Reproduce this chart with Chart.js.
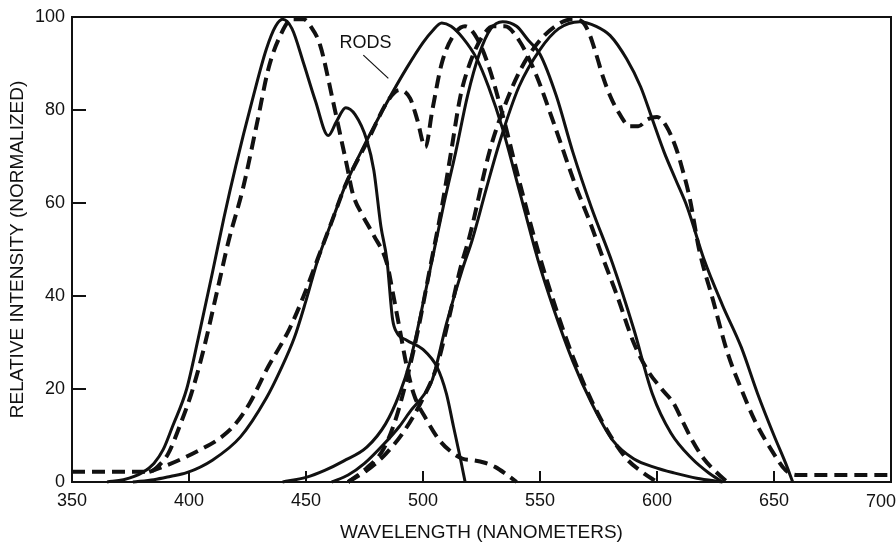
<!DOCTYPE html>
<html>
<head>
<meta charset="utf-8">
<script src="https://cdn.jsdelivr.net/npm/chart.js@4/dist/chart.umd.min.js"></script>
<style>
  html, body { margin: 0; padding: 0; background: #fff; }
  #wrap { width: 896px; height: 544px; }
</style>
</head>
<body>
<div id="wrap"><canvas id="chart" width="896" height="544"></canvas></div>
<script>
// [wavelength nm, relative intensity]
const blueSolid = [
  [365, 0], [372, 0.5], [380, 2], [385, 4], [389, 7], [393, 12], [399, 20], [404, 31],
  [410, 45], [415, 57], [420, 68], [427, 82], [433, 93], [437, 98], [440, 99.5], [444, 97.5],
  [449, 90], [454, 82], [459.5, 74.5], [463, 77.5], [467, 80.5], [471, 79], [476, 73.5],
  [479, 67], [482, 55], [484.6, 47.7], [487, 35], [489, 32], [493, 30.5], [500, 28.5],
  [506, 24.7], [510, 19], [513, 12], [516, 5], [518, 0]
];
const blueDashed = [
  [350, 2.2], [383, 2.2], [387, 3.5], [391, 6], [396, 12], [401, 19], [406, 28], [412, 41],
  [417, 52], [423, 63], [429, 77], [434, 89], [439, 96], [444, 99.5], [449, 99.5], [452, 98],
  [456, 94], [461.5, 82], [464.5, 75], [467.5, 68], [470, 62], [474, 57.5], [479, 53],
  [484.6, 47], [487, 41], [490, 33], [493, 25], [496, 19], [501.6, 13.3], [507, 9],
  [512, 6.5], [517, 5], [521, 4.7], [526, 4.2], [531, 3.2], [536, 1.5], [540, 0]
];
const rodSolid = [
  [376, 0], [385, 0.5], [392, 1.2], [399, 2], [410, 4.7], [422, 9.7], [433, 18], [439, 24],
  [445, 31], [450, 39], [455, 47.7], [461, 56], [467, 64], [476, 73.5], [485, 82], [493, 89],
  [500, 94.5], [504, 97], [508, 98.7], [512, 98], [517, 95.5], [523, 91], [528, 85], [534, 76],
  [541, 63], [549, 48], [556, 37], [564, 26], [572, 17], [581, 9], [590, 5], [600, 3],
  [607, 2], [617, 0.8], [628, 0]
];
const rodDashed = [
  [383, 2.2], [390, 3.5], [397, 5], [405, 7], [412, 9], [419, 12], [426, 17], [433, 24],
  [443, 33], [449, 40], [455, 48], [461, 56], [467, 64], [477, 74], [485, 82], [490, 84.3],
  [494.5, 82.5], [497.5, 78], [501, 72], [504, 80], [508, 90], [513, 96], [518, 98],
  [523, 95.5], [528, 89.5], [534, 79], [541, 65], [549, 50], [557, 37], [564, 27],
  [572, 17.5], [580, 10], [587, 5], [594, 2], [600, 0]
];
const greenSolid = [
  [440, 0], [450, 1], [458, 2.5], [466, 4.5], [476, 7.5], [484, 12.5], [490, 19], [494.5, 26],
  [499, 36], [504, 48], [509, 60], [514, 71], [519, 83], [524, 92], [529, 97.5], [534, 99],
  [540, 98], [545, 95], [550, 92], [557, 83], [564, 71], [572, 59], [581, 47], [590, 33],
  [598, 19], [606, 10.5], [615, 5], [622, 2], [628, 0]
];
const greenDashed = [
  [468, 0], [476, 3], [483, 7], [488, 13], [493, 22], [498, 33], [503, 46], [508, 59],
  [512, 71], [516, 83], [520, 90], [525, 95.5], [530, 98], [535, 98], [541, 95], [548, 88],
  [556, 77], [565, 64], [572, 55], [577, 48], [583, 40], [590, 30], [596, 24], [602, 20],
  [607, 17], [611, 13], [615, 9], [620, 5], [625.6, 2], [630, 0]
];
const redSolid = [
  [461, 0], [468, 1.5], [475, 4], [483, 8], [490, 12], [495, 15.5], [500, 18.5], [504, 22],
  [510, 34], [517, 46], [521, 52], [527, 63], [533, 73.5], [541, 85], [550, 93], [558, 97.5],
  [567, 99], [574, 98], [580, 96], [587, 91], [593, 85], [598, 78], [603, 71], [608, 65],
  [613, 59], [620, 48], [628, 38], [636, 29], [643, 19], [650, 10], [655, 4], [658, 0]
];
const redDashed = [
  [468, 0], [476, 2.5], [484, 6], [492, 11], [500, 18], [506, 25], [511, 35], [516, 46],
  [520, 53], [528.6, 71.4], [535, 81], [542, 89], [550, 95], [558, 98.5], [564, 99.5],
  [568, 99], [571, 96.5], [574, 92], [577, 87], [580, 83], [583, 80], [588.5, 76.5],
  [592, 76.5], [596, 78], [600, 78.5], [604, 76.5], [608, 72], [611, 67], [614, 61],
  [618, 50], [624, 39], [630, 28], [636, 20], [642, 13], [650, 6], [655, 2.5], [660, 1.5],
  [700, 1.5]
];

const xTickMarks = [400, 450, 500, 550, 600, 650];
const yTickMarks = [20, 40, 60, 80];
const lastXLabel = 700;
const rodsLabel = { text: 'RODS', at: [475.4, 94.3], lineFrom: [474.5, 91.8], lineTo: [485.2, 86.8] };

const INK = '#111';
const FONT = '"Liberation Sans", Arial, Helvetica, sans-serif';

function series(points, dashed) {
  return {
    data: points.map(([x, y]) => ({ x, y })),
    borderColor: INK,
    borderWidth: dashed ? 4 : 3,
    borderDash: dashed ? [13, 7] : [],
    pointRadius: 0,
    cubicInterpolationMode: 'monotone',
    fill: false,
    clip: 4
  };
}

// box, inward tick marks, the edge label and the RODS callout
const framePlugin = {
  id: 'frame',
  afterDatasetsDraw(chart) {
    const { ctx, chartArea: a, scales: { x, y } } = chart;
    ctx.save();
    ctx.strokeStyle = INK;
    ctx.lineWidth = 2;
    ctx.strokeRect(a.left, a.top, a.right - a.left, a.bottom - a.top);
    ctx.beginPath();
    for (const v of yTickMarks) {
      const py = y.getPixelForValue(v);
      ctx.moveTo(a.left, py);
      ctx.lineTo(a.left + 14, py);
    }
    for (const v of xTickMarks) {
      const px = x.getPixelForValue(v);
      ctx.moveTo(px, a.bottom);
      ctx.lineTo(px, a.bottom - 11);
    }
    ctx.stroke();

    ctx.fillStyle = INK;
    ctx.font = '18px ' + FONT;
    // 700 sits flush with the right edge in the original
    ctx.textAlign = 'right';
    ctx.textBaseline = 'middle';
    ctx.fillText(String(lastXLabel), chart.width, a.bottom + 20);

    ctx.lineWidth = 1.2;
    ctx.beginPath();
    ctx.moveTo(x.getPixelForValue(rodsLabel.lineFrom[0]), y.getPixelForValue(rodsLabel.lineFrom[1]));
    ctx.lineTo(x.getPixelForValue(rodsLabel.lineTo[0]), y.getPixelForValue(rodsLabel.lineTo[1]));
    ctx.stroke();
    ctx.textAlign = 'center';
    ctx.fillText(rodsLabel.text, x.getPixelForValue(rodsLabel.at[0]), y.getPixelForValue(rodsLabel.at[1]));
    ctx.restore();
  }
};

new Chart(document.getElementById('chart'), {
  type: 'line',
  plugins: [framePlugin],
  data: {
    datasets: [
      series(blueSolid, false),
      series(blueDashed, true),
      series(rodSolid, false),
      series(rodDashed, true),
      series(greenSolid, false),
      series(greenDashed, true),
      series(redSolid, false),
      series(redDashed, true)
    ]
  },
  options: {
    responsive: false,
    animation: false,
    events: [],
    layout: { padding: { top: 17, right: 5, bottom: 0, left: 0 } },
    plugins: { legend: { display: false }, tooltip: { enabled: false } },
    scales: {
      x: {
        type: 'linear',
        min: 350,
        max: 700,
        grid: { display: false, drawTicks: false },
        border: { display: false },
        ticks: {
          stepSize: 50, color: INK, font: { family: FONT, size: 18 }, padding: 8, maxRotation: 0,
          callback: (v) => (v === lastXLabel ? '' : v)
        },
        title: { display: true, text: 'WAVELENGTH (NANOMETERS)', color: INK, font: { family: FONT, size: 19 }, padding: { top: 2, bottom: 0 } },
        afterFit(s) { s.height = 62; s.paddingLeft = 0; s.paddingRight = 0; }
      },
      y: {
        min: 0,
        max: 100,
        grid: { display: false, drawTicks: false },
        border: { display: false },
        ticks: { stepSize: 20, color: INK, font: { family: FONT, size: 18 }, padding: 7 },
        title: { display: true, text: 'RELATIVE INTENSITY (NORMALIZED)', color: INK, font: { family: FONT, size: 19 }, padding: { top: 6, bottom: 0 } },
        afterFit(s) { s.width = 72; s.paddingTop = 0; s.paddingBottom = 0; }
      }
    }
  }
});
</script>
</body>
</html>
